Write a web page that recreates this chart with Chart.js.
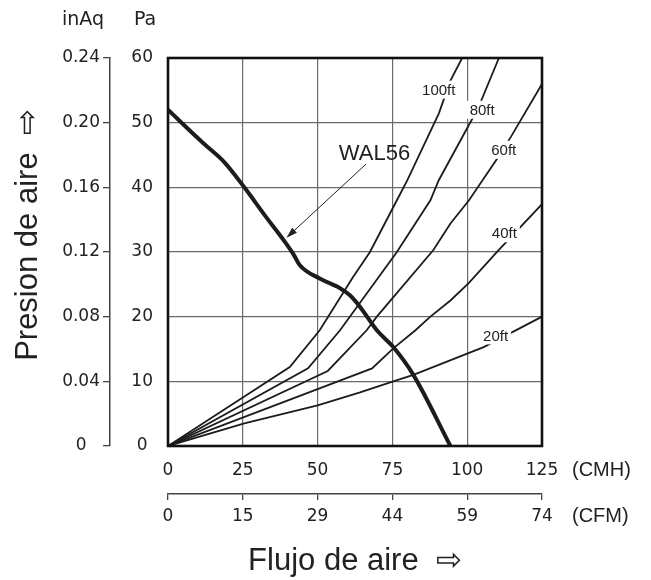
<!DOCTYPE html>
<html>
<head>
<meta charset="utf-8">
<script src="https://cdn.jsdelivr.net/npm/chart.js@4.4.0/dist/chart.umd.min.js"></script>
<style>
  html, body { margin: 0; padding: 0; background: #fff; }
  #wrap { width: 651px; height: 580px; }
</style>
</head>
<body>
<div id="wrap"><canvas id="myChart"></canvas></div>
<script>
// axis ticks
var CMH_TICKS = [0, 25, 50, 75, 100, 125];
var CFM_LABELS = ["0", "15", "29", "44", "59", "74"];
var PA_TICKS = [0, 10, 20, 30, 40, 50, 60];
var INAQ_LABELS = ["0", "0.04", "0.08", "0.12", "0.16", "0.20", "0.24"];

// fan curve [CMH, Pa]
var wal56 = [[0, 52], [5.4, 49.6], [12.1, 46.7], [18.8, 43.9], [25.5, 40], [32.3, 35.7],
  [39, 31.6], [42, 29.6], [44, 28], [50.7, 25.9], [57.5, 24.4], [60.8, 23.3], [64.2, 21.5],
  [69.8, 17.9], [75.3, 15.3], [82, 11], [94.4, 0]];

// duct resistance curves [CMH, Pa]
var ft100 = [[0, 0], [40.7, 12.2], [50.7, 17.9], [61.8, 26.1], [67.5, 30], [76.5, 38],
  [80, 41.1], [90.5, 51.4], [94.4, 56.5], [98.3, 60]];
var ft80 = [[0, 0], [46.8, 12], [57.5, 17.9], [76.5, 30], [87.7, 38], [90.5, 41.1],
  [101.7, 50.6], [104.5, 53.2], [110.6, 60]];
var ft60 = [[0, 0], [53.4, 11.6], [66.4, 17.9], [69.8, 20], [88.7, 30.3], [94.4, 34.4],
  [100.6, 38], [110, 44.4], [114.6, 47.8], [125, 56]];
var ft40 = [[0, 0], [68.2, 12], [75.3, 15.1], [82.7, 17.9], [87.7, 20], [94.4, 22.5],
  [100.5, 25.2], [110.5, 30.3], [125, 37.4]];
var ft20 = [[0, 0], [25.5, 3.5], [50, 6.3], [64.2, 8.3], [75.3, 10], [82, 11],
  [105.5, 15.3], [125, 20]];

var curveNames = ["100ft", "80ft", "60ft", "40ft", "20ft"];

// where the curve names sit (data coords)
var labelSpots = [[90.5, 55.1], [105, 52], [112.2, 45.8], [112.4, 32.9], [109.5, 17.1]];
var walSpot = [69, 45.2];
var arrowFrom = [66.2, 43.6];
var arrowTo = [39.6, 32.2];

var tickFont = { family: '"DejaVu Sans", sans-serif', size: 17 };
var textFont = '"Liberation Sans", Arial, sans-serif';

toXY = pts => pts.map(p => ({ x: p[0], y: p[1] }));

var fixedTicks = list => s => { s.ticks = list.map(v => ({ value: v })); };

var extras = {
  id: "extras",
  afterDatasetsDraw: chart => {
    var ctx = chart.ctx, a = chart.chartArea;
    var sx = chart.scales.x, sy = chart.scales.y;
    ctx.save();

    ctx.font = "15px " + textFont;
    ctx.textAlign = "center";
    ctx.textBaseline = "middle";
    for (let i = 0; i < curveNames.length; i++) {
      var px = sx.getPixelForValue(labelSpots[i][0]);
      var py = sy.getPixelForValue(labelSpots[i][1]);
      var w = ctx.measureText(curveNames[i]).width;
      ctx.fillStyle = "#fff";
      ctx.fillRect(px - w / 2 - 3, py - 9, w + 6, 18);
      ctx.fillStyle = "#222";
      ctx.fillText(curveNames[i], px, py + 1);
    }

    // WAL56 label and pointer
    ctx.font = "22px " + textFont;
    ctx.fillText("WAL56", sx.getPixelForValue(walSpot[0]), sy.getPixelForValue(walSpot[1]));
    var x0 = sx.getPixelForValue(arrowFrom[0]), y0 = sy.getPixelForValue(arrowFrom[1]);
    var x1 = sx.getPixelForValue(arrowTo[0]), y1 = sy.getPixelForValue(arrowTo[1]);
    var ang = Math.atan2(y1 - y0, x1 - x0);
    ctx.strokeStyle = "#222";
    ctx.lineWidth = 1;
    ctx.beginPath();
    ctx.moveTo(x0, y0);
    ctx.lineTo(x1 - 8 * Math.cos(ang), y1 - 8 * Math.sin(ang));
    ctx.stroke();
    ctx.beginPath();
    ctx.moveTo(x1, y1);
    ctx.lineTo(x1 - 11 * Math.cos(ang) + 3.5 * Math.sin(ang), y1 - 11 * Math.sin(ang) - 3.5 * Math.cos(ang));
    ctx.lineTo(x1 - 11 * Math.cos(ang) - 3.5 * Math.sin(ang), y1 - 11 * Math.sin(ang) + 3.5 * Math.cos(ang));
    ctx.closePath();
    ctx.fillStyle = "#222";
    ctx.fill();

    // frame
    ctx.strokeStyle = "#111";
    ctx.lineWidth = 2.6;
    ctx.strokeRect(a.left, a.top, a.right - a.left, a.bottom - a.top);
    ctx.restore();
  },
  afterDraw: chart => {
    var ctx = chart.ctx, a = chart.chartArea;
    var s = chart.scales;
    ctx.save();
    ctx.fillStyle = "#222";
    ctx.textBaseline = "middle";

    ctx.font = "19px " + tickFont.family;
    ctx.textAlign = "center";
    ctx.fillText("inAq", s.y2.right - 27, 20);
    ctx.fillText("Pa", s.y.right - 23, 20);

    ctx.font = "20px " + textFont;
    ctx.textAlign = "left";
    ctx.fillText("(CMH)", a.right + 30, s.x.top + 24);
    ctx.fillText("(CFM)", a.right + 30, s.x2.top + 22);

    ctx.font = "31px " + textFont;
    ctx.textAlign = "center";
    ctx.translate(a.left - 140, (a.top + a.bottom) / 2 - 17);
    ctx.rotate(-Math.PI / 2);
    ctx.fillText("Presion de aire  \u21E8", 0, 0);
    ctx.restore();
  }
};

var curve = (data, width) => ({
  data: toXY(data),
  borderColor: "#1c1c1c",
  borderWidth: width,
  pointRadius: 0,
  fill: false
});

var datasets = [curve(ft100, 1.8), curve(ft80, 1.8), curve(ft60, 1.8), curve(ft40, 1.8), curve(ft20, 1.8)];
var fan = curve(wal56, 4);
fan.cubicInterpolationMode = "monotone";
datasets.push(fan);

new Chart(document.getElementById("myChart"), {
  type: "line",
  data: { datasets: datasets },
  plugins: [extras],
  options: {
    responsive: true,
    maintainAspectRatio: false,
    animation: false,
    events: [],
    layout: { padding: { left: 50, right: 109, top: 58, bottom: 0 } },
    plugins: { legend: { display: false }, tooltip: { enabled: false } },
    scales: {
      x: {
        type: "linear", min: 0, max: 125, position: "bottom", weight: 0,
        afterBuildTicks: fixedTicks(CMH_TICKS),
        afterFit: sc => { sc.height = 48; },
        ticks: { font: tickFont, color: "#222", padding: 14, maxRotation: 0 },
        grid: { color: "#6a6a6a", lineWidth: 1.2, drawTicks: false },
        border: { display: false }
      },
      x2: {
        type: "linear", min: 0, max: 125, position: "bottom", weight: 1,
        afterBuildTicks: fixedTicks(CMH_TICKS),
        afterFit: sc => { sc.height = 86; },
        ticks: { font: tickFont, color: "#222", padding: 6, maxRotation: 0,
          callback: (v, i) => CFM_LABELS[i] },
        grid: { drawOnChartArea: false, drawTicks: true, tickLength: 6, color: "#444", lineWidth: 1.3 },
        border: { display: true, color: "#444", width: 1.5 },
        title: { display: true, text: "Flujo de aire  \u21E8", color: "#222",
          font: { family: textFont, size: 31 }, padding: { top: 0, bottom: 0 } }
      },
      y: {
        type: "linear", min: 0, max: 60, position: "left", weight: 0,
        afterBuildTicks: fixedTicks(PA_TICKS),
        afterFit: sc => { sc.width = 58; },
        ticks: { font: tickFont, color: "#222", padding: 15, crossAlign: "center" },
        grid: { color: "#6a6a6a", lineWidth: 1.2, drawTicks: false },
        border: { display: false }
      },
      y2: {
        type: "linear", min: 0, max: 60, position: "left", weight: 1,
        afterBuildTicks: fixedTicks(PA_TICKS),
        afterFit: sc => { sc.width = 60; },
        ticks: { font: tickFont, color: "#222", padding: 3, crossAlign: "center",
          callback: (v, i) => INAQ_LABELS[i] },
        grid: { drawOnChartArea: false, drawTicks: true, tickLength: 7, color: "#444", lineWidth: 1.3 },
        border: { display: true, color: "#444", width: 1.5 }
      }
    }
  }
});
</script>
</body>
</html>
